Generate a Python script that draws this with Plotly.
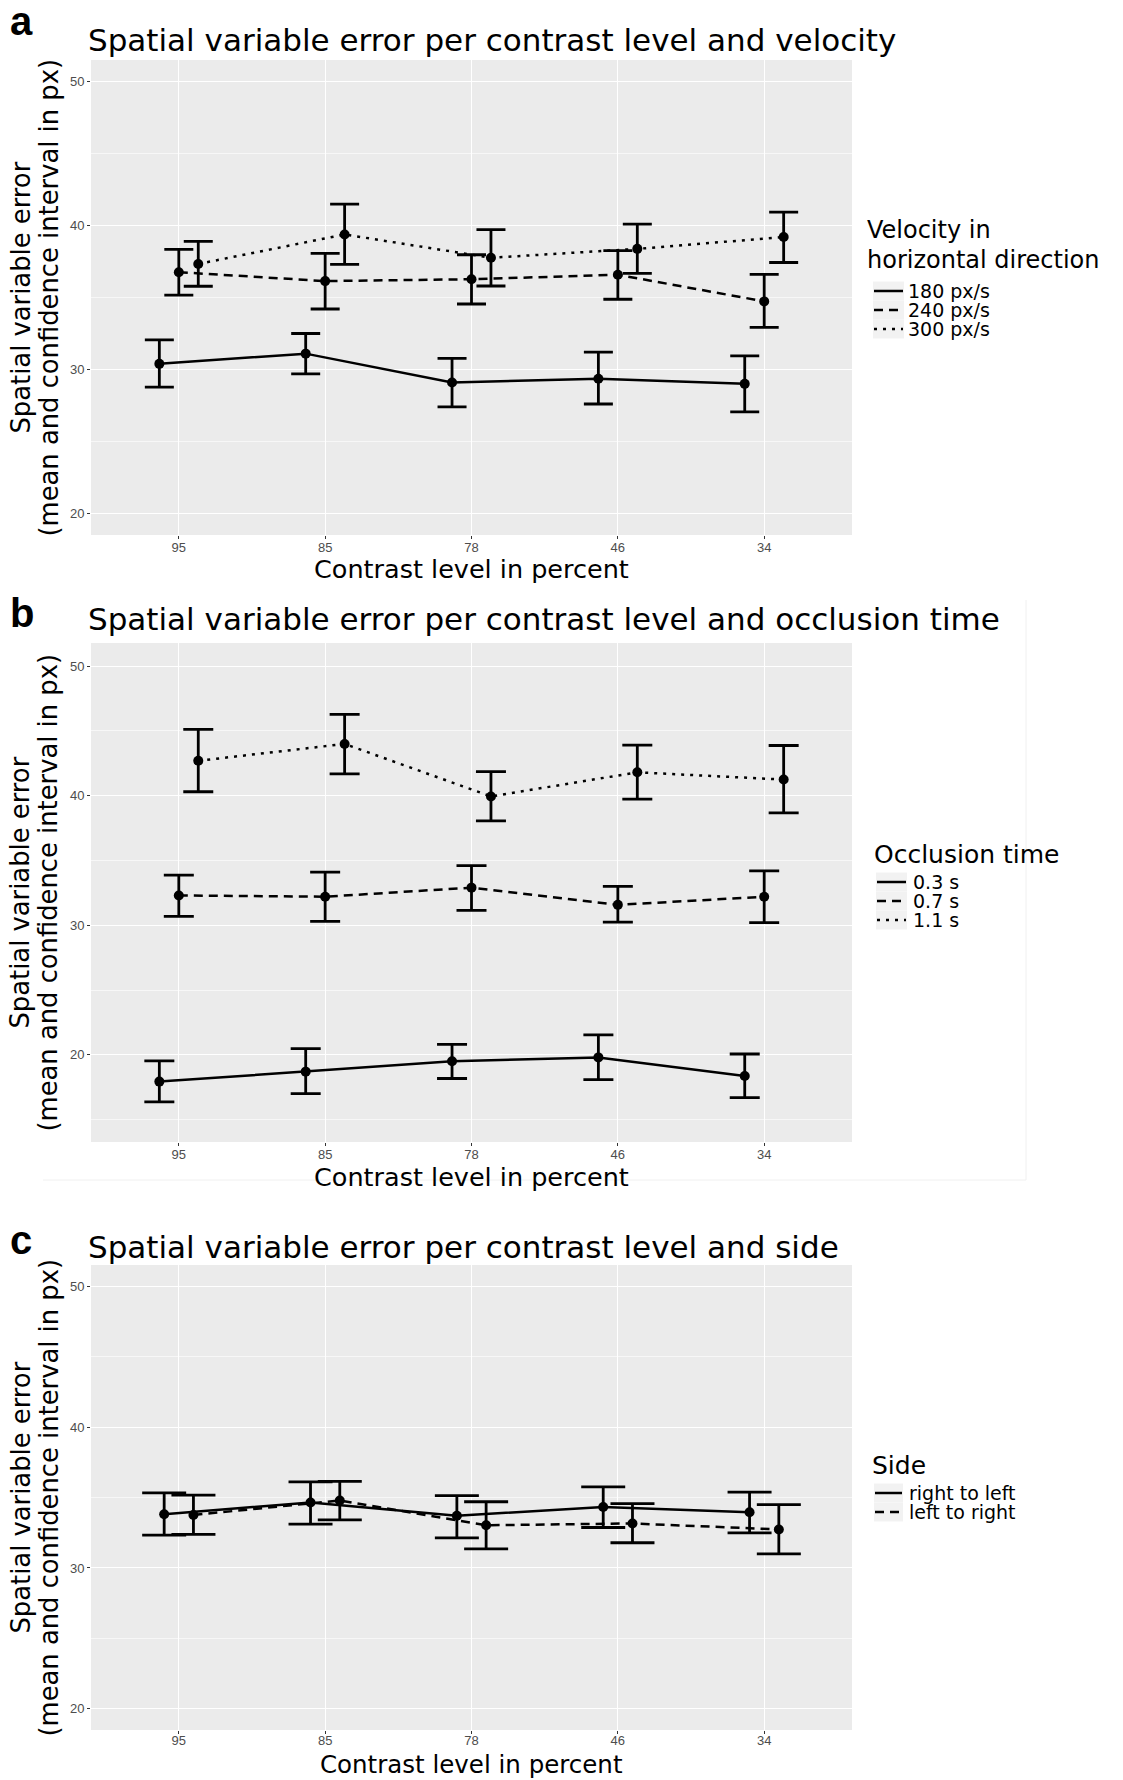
import plotly.graph_objects as go

# ---------------- data ----------------
contrast_levels = ["95", "85", "78", "46", "34"]

# Panel a: velocity
vel_title = ["Velocity in", "horizontal direction"]
vel_names = ["180 px/s", "240 px/s", "300 px/s"]
vel_mean = [
    [30.39, 31.10, 29.10, 29.36, 29.00],
    [36.76, 36.14, 36.27, 36.58, 34.73],
    [37.33, 39.38, 37.76, 38.38, 39.20],
]
vel_upper = [
    [32.06, 32.50, 30.77, 31.20, 30.95],
    [38.35, 38.07, 37.97, 38.25, 36.60],
    [38.90, 41.49, 39.72, 40.10, 40.93],
]
vel_lower = [
    [28.77, 29.70, 27.40, 27.60, 27.05],
    [35.17, 34.20, 34.55, 34.88, 32.93],
    [35.78, 37.30, 35.80, 36.68, 37.43],
]

# Panel b: occlusion time
occ_title = ["Occlusion time"]
occ_names = ["0.3 s", "0.7 s", "1.1 s"]
occ_mean = [
    [17.93, 18.70, 19.50, 19.80, 18.37],
    [32.30, 32.20, 32.90, 31.57, 32.20],
    [42.69, 43.99, 39.94, 41.80, 41.24],
]
occ_upper = [
    [19.53, 20.47, 20.80, 21.54, 20.06],
    [33.87, 34.10, 34.60, 32.99, 34.20],
    [45.11, 46.27, 41.86, 43.90, 43.87],
]
occ_lower = [
    [16.36, 17.00, 18.17, 18.08, 16.69],
    [30.68, 30.30, 31.15, 30.24, 30.20],
    [40.30, 41.68, 38.05, 39.73, 38.67],
]

# Panel c: side
side_title = ["Side"]
side_names = ["right to left", "left to right"]
side_mean = [
    [33.81, 34.65, 33.70, 34.33, 33.95],
    [33.76, 34.79, 33.03, 33.16, 32.73],
]
side_upper = [
    [35.33, 36.11, 35.14, 35.76, 35.38],
    [35.17, 36.14, 34.70, 34.57, 34.49],
]
side_lower = [
    [32.33, 33.11, 32.14, 32.87, 32.49],
    [32.38, 33.41, 31.35, 31.79, 31.00],
]

y_ticks = [20, 30, 40, 50]

panel_titles = [
    "Spatial variable error per contrast level and velocity",
    "Spatial variable error per contrast level and occlusion time",
    "Spatial variable error per contrast level and side",
]
panel_letters = ["a", "b", "c"]
x_title = "Contrast level in percent"
y_title_lines = ["Spatial variable error", "(mean and confidence interval in px)"]

# ---------------- style ----------------
W, H = 1123, 1780
FONT = "DejaVu Sans"
dashes = ["solid", "9px,6px", "3px,6px"]
dodge3 = [-0.133, 0.0, 0.133]
dodge2 = [-0.1, 0.1]


def px_x(v):
    return v / W


def px_y(v):
    return 1 - v / H


x_dom = [px_x(91), px_x(852)]
panels = [
    dict(ydom=[px_y(535), px_y(60)], yrange=[18.5, 51.5], title_y=40, letter_y=21,
         standoff=-3, xt=dict(y=px_y(553), yanchor="top", size=25.5)),
    dict(ydom=[px_y(1142), px_y(643)], yrange=[13.27, 51.78], title_y=619, letter_y=613,
         standoff=-3, xt=dict(y=px_y(1161), yanchor="top", size=25.5)),
    dict(ydom=[px_y(1730), px_y(1265)], yrange=[18.5, 51.5], title_y=1247, letter_y=1240,
         standoff=-5, xt=dict(y=0, yanchor="bottom", size=24.5)),
]

fig = go.Figure()


def add_group(means, uppers, lowers, names, offsets, axis_idx, cap):
    xa = "x" if axis_idx == 1 else f"x{axis_idx}"
    ya = "y" if axis_idx == 1 else f"y{axis_idx}"
    for i, name in enumerate(names):
        xs = [j + offsets[i] for j in range(len(contrast_levels))]
        up = [u - m for u, m in zip(uppers[i], means[i])]
        dn = [m - l for m, l in zip(means[i], lowers[i])]
        fig.add_trace(go.Scatter(
            x=xs, y=means[i], mode="lines+markers", name=name,
            xaxis=xa, yaxis=ya, showlegend=False,
            line=dict(color="black", width=2.5, dash=dashes[i]),
            marker=dict(color="black", size=10),
            error_y=dict(type="data", array=up, arrayminus=dn, symmetric=False,
                         color="black", thickness=2.8, width=cap),
        ))


add_group(vel_mean, vel_upper, vel_lower, vel_names, dodge3, 1, 14.5)
add_group(occ_mean, occ_upper, occ_lower, occ_names, dodge3, 2, 15)
add_group(side_mean, side_upper, side_lower, side_names, dodge2, 3, 22)

tickfont = dict(family="Liberation Sans Narrow, Liberation Sans, Arial", size=13, color="#4D4D4D")
axis_common_x = dict(
    domain=x_dom, range=[-0.6, len(contrast_levels) - 0.4],
    tickmode="array", tickvals=list(range(len(contrast_levels))), ticktext=contrast_levels,
    showgrid=True, gridcolor="white", gridwidth=1.4, zeroline=False,
    ticks="outside", ticklen=3, tickcolor="#333333", tickwidth=1,
    tickfont=tickfont, showline=False,
)
axis_common_y = dict(
    tickmode="array", tickvals=y_ticks,
    showgrid=True, gridcolor="white", gridwidth=1.4, zeroline=False,
    minor=dict(dtick=5, tick0=0, showgrid=True, gridcolor="#F7F7F7", gridwidth=0.7, ticks=""),
    ticks="outside", ticklen=3, tickcolor="#333333", tickwidth=1,
    tickfont=tickfont, showline=False,
)

layout_axes = {}
for k, p in enumerate(panels, start=1):
    sx = "xaxis" if k == 1 else f"xaxis{k}"
    sy = "yaxis" if k == 1 else f"yaxis{k}"
    ax = dict(axis_common_x)
    ax["anchor"] = "y" if k == 1 else f"y{k}"
    ax["ticklabelstandoff"] = p["standoff"]
    ay = dict(axis_common_y)
    ay["domain"] = p["ydom"]
    ay["range"] = p["yrange"]
    ay["anchor"] = "x" if k == 1 else f"x{k}"
    layout_axes[sx] = ax
    layout_axes[sy] = ay

shapes = []
annotations = []

# faint border of the middle panel's image
shapes.append(dict(type="line", xref="paper", yref="paper",
                   x0=px_x(1026), x1=px_x(1026), y0=px_y(1180), y1=px_y(600),
                   line=dict(color="#F0F0F0", width=1)))
shapes.append(dict(type="line", xref="paper", yref="paper",
                   x0=px_x(43), x1=px_x(1026), y0=px_y(1180), y1=px_y(1180),
                   line=dict(color="#F0F0F0", width=1)))

y_title_x = [20, 48]
for k, p in enumerate(panels):
    annotations.append(dict(text=panel_titles[k], xref="paper", yref="paper",
                            x=px_x(86), y=px_y(p["title_y"]), xanchor="left", yanchor="middle",
                            showarrow=False, font=dict(family=FONT, size=31, color="black")))
    annotations.append(dict(text="<b>" + panel_letters[k] + "</b>", xref="paper", yref="paper",
                            x=px_x(8), y=px_y(p["letter_y"]), xanchor="left", yanchor="middle",
                            showarrow=False, font=dict(family="Liberation Sans, Arial", size=40, color="black")))
    annotations.append(dict(text=x_title, xref="paper", yref="paper",
                            x=(x_dom[0] + x_dom[1]) / 2, y=p["xt"]["y"],
                            xanchor="center", yanchor=p["xt"]["yanchor"], borderpad=0,
                            showarrow=False, font=dict(family=FONT, size=p["xt"]["size"], color="black")))
    yd = p["ydom"]
    for li, line in enumerate(y_title_lines):
        annotations.append(dict(text=line, xref="paper", yref="paper",
                                x=px_x(y_title_x[li]), y=(yd[0] + yd[1]) / 2, textangle=-90,
                                xanchor="center", yanchor="middle",
                                showarrow=False, font=dict(family=FONT, size=25.8, color="black")))


# ---------------- legends (drawn like ggplot's compact keys) ----------------
def add_legend(title_lines, title_x, title_y0, title_step, title_size,
               names, key_x0, key_x1, text_x, item_y0, item_step, item_size):
    for i, t in enumerate(title_lines):
        annotations.append(dict(text=t, xref="paper", yref="paper",
                                x=px_x(title_x), y=px_y(title_y0 + i * title_step),
                                xanchor="left", yanchor="middle", showarrow=False, borderpad=0,
                                font=dict(family=FONT, size=title_size, color="black")))
    for i, name in enumerate(names):
        yc = item_y0 + i * item_step
        shapes.append(dict(type="rect", xref="paper", yref="paper", layer="below",
                           x0=px_x(key_x0 - 1), x1=px_x(key_x1 + 1),
                           y0=px_y(yc + item_step / 2), y1=px_y(yc - item_step / 2),
                           fillcolor="#F2F2F2", line=dict(width=0)))
        shapes.append(dict(type="line", xref="paper", yref="paper",
                           x0=px_x(key_x0), x1=px_x(key_x1), y0=px_y(yc), y1=px_y(yc),
                           line=dict(color="black", width=2.5, dash=dashes[i])))
        annotations.append(dict(text=name, xref="paper", yref="paper",
                                x=px_x(text_x), y=px_y(yc), xanchor="left", yanchor="middle",
                                showarrow=False,
                                font=dict(family=FONT, size=item_size, color="black")))


add_legend(vel_title, 866, 230, 29.5, 24, vel_names, 874, 903, 906, 291, 19, 19)
add_legend(occ_title, 873, 854, 0, 25, occ_names, 877, 906, 911, 882, 19, 19)
add_legend(side_title, 871, 1465, 0, 25, side_names, 875, 902, 907, 1493, 19, 19)

fig.update_layout(
    width=W, height=H,
    margin=dict(l=0, r=0, t=0, b=0),
    paper_bgcolor="white", plot_bgcolor="#EBEBEB",
    font=dict(family=FONT),
    showlegend=False,
    shapes=shapes,
    annotations=annotations,
    **layout_axes,
)

fig.write_html("out.html")
